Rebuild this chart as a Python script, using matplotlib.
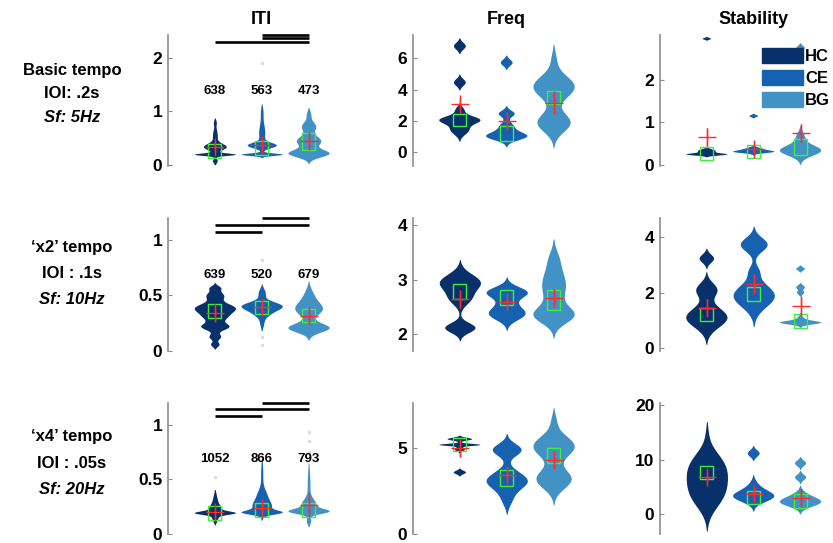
import numpy as np
import matplotlib.pyplot as plt
from matplotlib.patches import Patch, Rectangle

plt.rcParams['font.family'] = ['Liberation Sans', 'DejaVu Sans']
plt.rcParams['font.weight'] = 'bold'

groups = ['HC', 'CE', 'BG']
colors = ['#08306b', '#1661b0', '#4292c6']
measures = ['ITI', 'Freq', 'Stability']
row_labels = [['Basic tempo', 'IOI: .2s', 'Sf: 5Hz'],
              ['\u2018x2\u2019 tempo', 'IOI : .1s', 'Sf: 10Hz'],
              ['\u2018x4\u2019 tempo', 'IOI : .05s', 'Sf: 20Hz']]
iti_counts = [[638, 563, 473], [639, 520, 679], [1052, 866, 793]]
sig_pairs = [[(2, 3), (2, 3), (1, 3)],
             [(2, 3), (1, 3), (1, 2)],
             [(2, 3), (1, 3), (1, 2)]]

# violin shapes: (centre, spread, relative height) per mode
# ---- basic tempo
iti1_shape = [[(0.20, 0.022, 1.0), (0.34, 0.06, 0.55), (0.55, 0.12, 0.12), (0.80, 0.05, 0.06), (0.08, 0.04, 0.12)],
              [(0.20, 0.022, 1.0), (0.37, 0.05, 0.65), (0.60, 0.18, 0.15), (1.00, 0.10, 0.05)],
              [(0.22, 0.07, 1.0), (0.45, 0.09, 0.60), (0.72, 0.09, 0.35), (0.95, 0.07, 0.10)]]
iti1_box = [(0.13, 0.40), (0.19, 0.44), (0.28, 0.59)]
iti1_mean = [0.34, 0.37, 0.44]
iti1_err = [0.09, 0.08, 0.14]
iti1_out = [[0.03], [1.9], []]

freq1_shape = [[(2.05, 0.25, 1.0), (1.40, 0.30, 0.45), (2.70, 0.20, 0.20), (4.45, 0.22, 0.30), (6.78, 0.22, 0.30)],
               [(1.00, 0.25, 1.0), (1.60, 0.30, 0.35), (2.45, 0.20, 0.40), (5.72, 0.20, 0.30)],
               [(4.20, 0.70, 1.0), (1.90, 0.60, 0.80), (6.00, 0.50, 0.10)]]
freq1_box = [(1.68, 2.42), (0.72, 1.68), (3.06, 3.91)]
freq1_mean = [3.06, 2.0, 3.17]
freq1_err = [0.43, 0.50, 0.75]
freq1_out = [[], [], []]

stab1_shape = [[(0.25, 0.025, 1.0), (0.33, 0.04, 0.45), (2.96, 0.02, 0.22)],
               [(0.31, 0.03, 1.0), (0.37, 0.04, 0.50), (1.15, 0.025, 0.25)],
               [(0.34, 0.12, 1.0), (0.65, 0.12, 0.20), (2.75, 0.05, 0.20)]]
stab1_box = [(0.12, 0.43), (0.16, 0.47), (0.24, 0.62)]
stab1_mean = [0.65, 0.39, 0.75]
stab1_err = [0.21, 0.18, 0.21]
stab1_out = [[], [], []]

# ---- x2 tempo
iti2_shape = [[(0.39, 0.04, 1.0), (0.31, 0.04, 0.55), (0.22, 0.03, 0.70), (0.13, 0.025, 0.30),
               (0.50, 0.035, 0.45), (0.57, 0.02, 0.25), (0.06, 0.02, 0.22)],
              [(0.41, 0.035, 1.0), (0.35, 0.04, 0.45), (0.52, 0.04, 0.20), (0.25, 0.04, 0.10)],
              [(0.21, 0.04, 1.0), (0.38, 0.06, 0.65), (0.50, 0.06, 0.20)]]
iti2_box = [(0.30, 0.42), (0.33, 0.45), (0.26, 0.375)]
iti2_mean = [0.345, 0.40, 0.315]
iti2_err = [0.075, 0.07, 0.067]
iti2_out = [[], [0.82, 0.13, 0.05], []]

freq2_shape = [[(2.95, 0.15, 1.0), (2.65, 0.12, 0.45), (2.12, 0.09, 0.75)],
               [(2.77, 0.10, 1.0), (2.37, 0.11, 0.85), (2.55, 0.10, 0.30)],
               [(2.35, 0.15, 1.0), (2.90, 0.30, 0.65), (3.40, 0.15, 0.15)]]
freq2_box = [(2.65, 2.92), (2.53, 2.81), (2.44, 2.81)]
freq2_mean = [2.64, 2.59, 2.66]
freq2_err = [0.165, 0.135, 0.165]
freq2_out = [[], [], []]

stab2_shape = [[(1.10, 0.35, 1.0), (2.10, 0.25, 0.50), (3.23, 0.15, 0.35)],
               [(1.90, 0.40, 1.0), (3.75, 0.25, 0.65), (2.80, 0.20, 0.20)],
               [(0.92, 0.06, 1.0), (1.00, 0.12, 0.25), (2.00, 0.07, 0.20), (2.20, 0.07, 0.25), (2.86, 0.06, 0.25)]]
stab2_box = [(0.98, 1.46), (1.71, 2.20), (0.74, 1.23)]
stab2_mean = [1.46, 2.32, 1.53]
stab2_err = [0.30, 0.36, 0.36]
stab2_out = [[], [], []]

# ---- x4 tempo
iti3_shape = [[(0.195, 0.015, 1.0), (0.23, 0.04, 0.35), (0.32, 0.05, 0.12), (0.14, 0.03, 0.15)],
              [(0.20, 0.018, 1.0), (0.25, 0.05, 0.55), (0.35, 0.06, 0.30), (0.55, 0.10, 0.07)],
              [(0.21, 0.022, 1.0), (0.27, 0.05, 0.40), (0.45, 0.13, 0.08), (0.12, 0.03, 0.12)]]
iti3_box = [(0.13, 0.26), (0.16, 0.28), (0.16, 0.28)]
iti3_mean = [0.20, 0.235, 0.265]
iti3_err = [0.06, 0.06, 0.107]
iti3_out = [[0.52], [0.71], [0.75, 0.85, 0.93]]

freq3_shape = [[(5.17, 0.06, 1.0), (5.50, 0.08, 0.60), (4.90, 0.10, 0.25), (3.57, 0.10, 0.30)],
               [(3.10, 0.50, 1.0), (4.90, 0.35, 0.70), (2.00, 0.40, 0.20)],
               [(5.10, 0.60, 1.0), (3.20, 0.55, 0.85), (6.60, 0.40, 0.10)]]
freq3_box = [(4.79, 5.56), (2.76, 3.72), (4.11, 4.99)]
freq3_mean = [4.98, 3.43, 4.30]
freq3_err = [0.53, 0.48, 0.48]
freq3_out = [[], [], []]

stab3_shape = [[(9.0, 2.5, 1.0), (3.5, 2.5, 0.95), (6.3, 2.0, 0.30), (15.0, 1.5, 0.05)],
               [(3.2, 1.0, 1.0), (5.0, 1.0, 0.20), (11.1, 0.6, 0.30)],
               [(2.1, 0.8, 1.0), (3.3, 0.8, 0.30), (6.7, 0.5, 0.30), (9.3, 0.5, 0.30)]]
stab3_box = [(6.4, 8.9), (1.79, 4.26), (1.17, 3.64)]
stab3_mean = [6.7, 3.64, 3.0]
stab3_err = [1.24, 1.54, 1.54]
stab3_out = [[], [], []]

panels = [[(iti1_shape, iti1_box, iti1_mean, iti1_err, iti1_out),
           (freq1_shape, freq1_box, freq1_mean, freq1_err, freq1_out),
           (stab1_shape, stab1_box, stab1_mean, stab1_err, stab1_out)],
          [(iti2_shape, iti2_box, iti2_mean, iti2_err, iti2_out),
           (freq2_shape, freq2_box, freq2_mean, freq2_err, freq2_out),
           (stab2_shape, stab2_box, stab2_mean, stab2_err, stab2_out)],
          [(iti3_shape, iti3_box, iti3_mean, iti3_err, iti3_out),
           (freq3_shape, freq3_box, freq3_mean, freq3_err, freq3_out),
           (stab3_shape, stab3_box, stab3_mean, stab3_err, stab3_out)]]

ylims = [[(-0.02, 2.43), (-0.9, 7.5), (-0.02, 3.05)],
         [(0.0, 1.196), (1.69, 4.13), (-0.1, 4.7)],
         [(0.0, 1.2), (0.0, 7.6), (-3.7, 20.4)]]
yticks = [[[0, 1, 2], [0, 2, 4, 6], [0, 1, 2]],
          [[0, 0.5, 1], [2, 3, 4], [0, 2, 4]],
          [[0, 0.5, 1], [0, 5], [0, 10, 20]]]

W, H = 833, 543
col_left = [168, 413, 660]
col_w = 164
row_top = [35, 218, 403]
row_bot = [166, 351, 534]
half_w = 0.44
sig_levels = [[1.0, 0.975, 0.947], [1.0, 0.947, 0.895], [1.0, 0.954, 0.90]]


def violin(ax, x, comps, color):
    lo = min(c - 3.5 * s for c, s, h in comps)
    hi = max(c + 3.5 * s for c, s, h in comps)
    y = np.linspace(lo, hi, 1500)
    d = np.zeros_like(y)
    for c, s, h in comps:
        d += h * np.exp(-0.5 * ((y - c) / s) ** 2)
    d = d / d.max()
    ax.fill_betweenx(y, x - half_w * d, x + half_w * d, where=d > 0.02,
                     color=color, lw=0, zorder=2)


fig = plt.figure(figsize=(W / 100, H / 100), dpi=100)

for r in range(3):
    for c in range(3):
        ax = fig.add_axes([col_left[c] / W, 1 - row_bot[r] / H, col_w / W,
                           (row_bot[r] - row_top[r]) / H])
        shapes, boxes, means, errs, outs = panels[r][c]
        for i in range(3):
            x = i + 1
            violin(ax, x, shapes[i], colors[i])
            q1, q3 = boxes[i]
            ax.add_patch(Rectangle((x - 0.14, q1), 0.28, q3 - q1, fill=False,
                                   ec='#3cf03c', lw=1, zorder=3))
            ax.errorbar(x, means[i], yerr=errs[i], fmt='+', color='#ff2a2a',
                        ms=13, mew=1, elinewidth=1, capsize=0, zorder=4)
            if outs[i]:
                ax.plot([x] * len(outs[i]), outs[i], 'o', color='#dddddd',
                        ms=1.5, zorder=1)
        ax.set_xlim(0, 3.5)
        ax.set_ylim(*ylims[r][c])
        ax.set_yticks(yticks[r][c])
        ax.set_yticklabels([('%g' % t) for t in yticks[r][c]])
        ax.set_xticks([])
        for s in ['top', 'right', 'bottom']:
            ax.spines[s].set_visible(False)
        ax.spines['left'].set_color('#8c8c8c')
        ax.spines['left'].set_linewidth(1.2)
        ax.tick_params(axis='y', direction='in', length=3, color='#8c8c8c',
                       labelsize=12.5, pad=4)
        for lab in ax.get_yticklabels():
            lab.set_fontweight('bold')
        ax.patch.set_alpha(0)

        if r == 0:
            ax.annotate(measures[c], xy=(2, 1), xycoords=('data', 'axes fraction'),
                        xytext=(0, 5), textcoords='offset points', ha='center',
                        va='bottom', fontsize=13, fontweight='bold')
        if c == 0:
            for i in range(3):
                ax.annotate(str(iti_counts[r][i]), xy=(i + 1, 0.57),
                            xycoords=('data', 'axes fraction'), ha='center',
                            va='center', fontsize=9.5, fontweight='bold')
            for (a, b), lev in zip(sig_pairs[r], sig_levels[r]):
                ax.plot([a, b], [lev, lev], color='black', lw=1.9,
                        transform=ax.get_xaxis_transform(), clip_on=False,
                        solid_capstyle='butt')
        if r == 0 and c == 2:
            handles = [Patch(color=col) for col in colors]
            ax.legend(handles, groups, loc='upper left',
                      bbox_to_anchor=((762 - 660) / col_w, 1 - (48 - 35) / 131),
                      frameon=False, handlelength=2.46,
                      handleheight=1.02, labelspacing=0.33, handletextpad=0.12,
                      borderpad=0, borderaxespad=0,
                      prop={'weight': 'bold', 'size': 12})

row_text_y = [[70, 94, 117], [248, 274, 299], [437, 463, 490]]
for r in range(3):
    for j, txt in enumerate(row_labels[r]):
        fig.text(72 / W, 1 - row_text_y[r][j] / H, txt, ha='center', va='center',
                 fontsize=12, fontweight='bold',
                 style='italic' if j == 2 else 'normal')

fig.savefig('out.png', dpi=100)
